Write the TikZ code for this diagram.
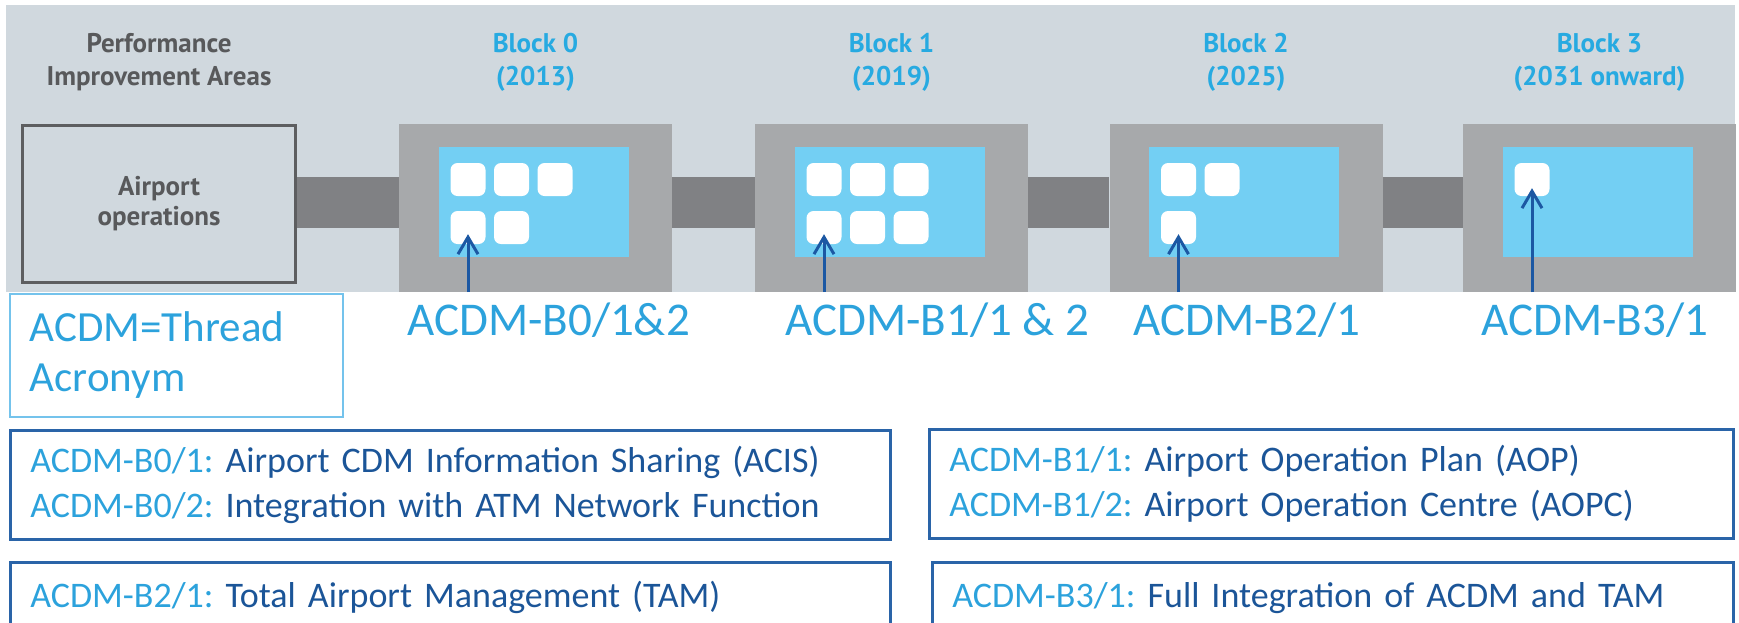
\documentclass[tikz,border=0pt]{standalone}
\usepackage{fontspec}
\setmainfont{Carlito}
\newfontfamily\dinfont{PT Sans}
\usetikzlibrary{arrows.meta}
\frenchspacing

\definecolor{bandgray}{HTML}{D0D8DE}
\definecolor{headgray}{HTML}{58595B}
\definecolor{framegray}{HTML}{5D5E60}
\definecolor{bargray}{HTML}{808184}
\definecolor{blockgray}{HTML}{A7A9AB}
\definecolor{skyfill}{HTML}{73CFF3}
\definecolor{headblue}{HTML}{27AAE1}
\definecolor{acdmblue}{HTML}{2CA2DC}
\definecolor{navy}{HTML}{1B5598}
\definecolor{boxblue}{HTML}{2A64A8}
\definecolor{thinblue}{HTML}{74C3EC}
\definecolor{pointblue}{HTML}{1C58A3}

\begin{document}
\begin{tikzpicture}[x=1pt, y=-1pt,
    head/.style={font=\dinfont\bfseries\fontsize{27pt}{33pt}\selectfont, align=center, inner sep=0pt},
    airbox/.style={rectangle, draw=framegray, line width=3pt, fill=bandgray,
      minimum width=273pt, minimum height=157pt, text=headgray,
      font=\dinfont\bfseries\fontsize{27pt}{30pt}\selectfont, align=center},
    blockbox/.style={rectangle, fill=blockgray, minimum width=273pt, minimum height=168pt, inner sep=0pt},
    panel/.style={rectangle, fill=skyfill, minimum width=190pt, minimum height=110pt, inner sep=0pt},
    tile/.style={rectangle, fill=white, rounded corners=7pt, minimum width=35pt, minimum height=33pt, inner sep=0pt},
    bar/.style={draw=bargray, line width=51pt},
    pointer/.style={draw=pointblue, line width=3pt, -{Straight Barb[length=17pt, width=20pt]}},
    tag/.style={font=\fontsize{47pt}{56pt}\selectfont, text=acdmblue, inner sep=0pt},
    keybox/.style={rectangle, draw=thinblue, line width=1.5pt, text=acdmblue, align=left,
      inner xsep=20pt, inner ysep=0pt, font=\fontsize{43pt}{50pt}\selectfont},
    infobox/.style={rectangle, draw=boxblue, line width=2.5pt, text=navy, align=left,
      inner xsep=20pt, inner ysep=0pt, font=\fontsize{36pt}{45pt}\selectfont}]
   \useasboundingbox (0,0) rectangle (1739,622);
   \clip (0,0) rectangle (1739,622);

   % timeline band
   \fill[bandgray] (6,5) rectangle (1735,292);

   \node[head, text=headgray, anchor=base] (pia) at (159,85) {Performance\\Improvement Areas};
   \node[head, text=headblue, anchor=base] (h0) at (535.5,85) {Block 0\\(2013)};
   \node[head, text=headblue, anchor=base] (h1) at (891.5,85) {Block 1\\(2019)};
   \node[head, text=headblue, anchor=base] (h2) at (1246,85) {Block 2\\(2025)};
   \node[head, text=headblue, anchor=base] (h3) at (1599.5,85) {Block 3\\(2031 onward)};

   \node[airbox] (air) at (159,204) {Airport\\operations};
   \node[blockbox] (b0) at (535.5,208) {};
   \node[blockbox] (b1) at (891.5,208) {};
   \node[blockbox] (b2) at (1246,208) {};
   \node[blockbox] (b3) at (1599.5,208) {};

   \draw[bar] (air.east |- 0,202.5) -- (b0.west |- 0,202.5);
   \draw[bar] (b0.east |- 0,202.5) -- (b1.west |- 0,202.5);
   \draw[bar] (b1.east |- 0,202.5) -- (b2.west |- 0,202.5);
   \draw[bar] (b2.east |- 0,202.5) -- (b3.west |- 0,202.5);

   \node[panel] (p0) at (533.5,202) {};
   \node[panel] (p1) at (889.5,202) {};
   \node[panel] (p2) at (1244,202) {};
   \node[panel] (p3) at (1597.5,202) {};

   % elements per block
   \node[tile] (q01) at (468,179.5) {};
   \node[tile] (q02) at (511.5,179.5) {};
   \node[tile] (q03) at (555,179.5) {};
   \node[tile] (q04) at (468,227.5) {};
   \node[tile] (q05) at (511.5,227.5) {};
   \node[tile] (q11) at (824,179.5) {};
   \node[tile] (q12) at (867.5,179.5) {};
   \node[tile] (q13) at (911,179.5) {};
   \node[tile] (q14) at (824,227.5) {};
   \node[tile] (q15) at (867.5,227.5) {};
   \node[tile] (q16) at (911,227.5) {};
   \node[tile] (q21) at (1178.5,179.5) {};
   \node[tile] (q22) at (1222,179.5) {};
   \node[tile] (q23) at (1178.5,227.5) {};
   \node[tile] (q31) at (1532,179.5) {};

   \node[tag, anchor=base west] (tag0) at (407,335) {ACDM-B0/1\&2};
   \node[tag, anchor=base west] (tag1) at (785,335) {ACDM-B1/1 \& 2};
   \node[tag, anchor=base west] (tag2) at (1133,335) {ACDM-B2/1};
   \node[tag, anchor=base west] (tag3) at (1481,335) {ACDM-B3/1};

   \coordinate (foot0) at (q04 |- 0,292);
   \coordinate (foot1) at (q14 |- 0,292);
   \coordinate (foot2) at (q23 |- 0,292);
   \coordinate (foot3) at (q31 |- 0,292);
   \draw[pointer] (foot0) -- ([yshift=10pt]q04.south);
   \draw[pointer] (foot1) -- ([yshift=10pt]q14.south);
   \draw[pointer] (foot2) -- ([yshift=10pt]q23.south);
   \draw[pointer] (foot3) -- ([yshift=8pt]q31.south);

   \node[keybox, anchor=north west, minimum width=333pt, minimum height=123pt, text width=293pt]
     (key) at (9,293) {ACDM=Thread\\Acronym};

   \node[infobox, anchor=north west, minimum width=880pt, minimum height=109pt, text width=840pt] (info0) at (9,429)
     {\textcolor{acdmblue}{ACDM-B0/1:} Airport CDM Information Sharing (ACIS)\\
      \textcolor{acdmblue}{ACDM-B0/2:} Integration with ATM Network Function};
   \node[infobox, anchor=north west, minimum width=804pt, minimum height=109pt, text width=764pt] (info1) at (928,428)
     {\textcolor{acdmblue}{ACDM-B1/1:} Airport Operation Plan (AOP)\\
      \textcolor{acdmblue}{ACDM-B1/2:} Airport Operation Centre (AOPC)};
   \node[infobox, anchor=north west, minimum width=880pt, minimum height=71pt, text width=840pt] (info2) at (9,561)
     {\textcolor{acdmblue}{ACDM-B2/1:} Total Airport Management (TAM)};
   \node[infobox, anchor=north west, minimum width=801pt, minimum height=71pt, text width=761pt] (info3) at (931,561)
     {\textcolor{acdmblue}{ACDM-B3/1:} Full Integration of ACDM and TAM};
 \end{tikzpicture}
\end{document}
